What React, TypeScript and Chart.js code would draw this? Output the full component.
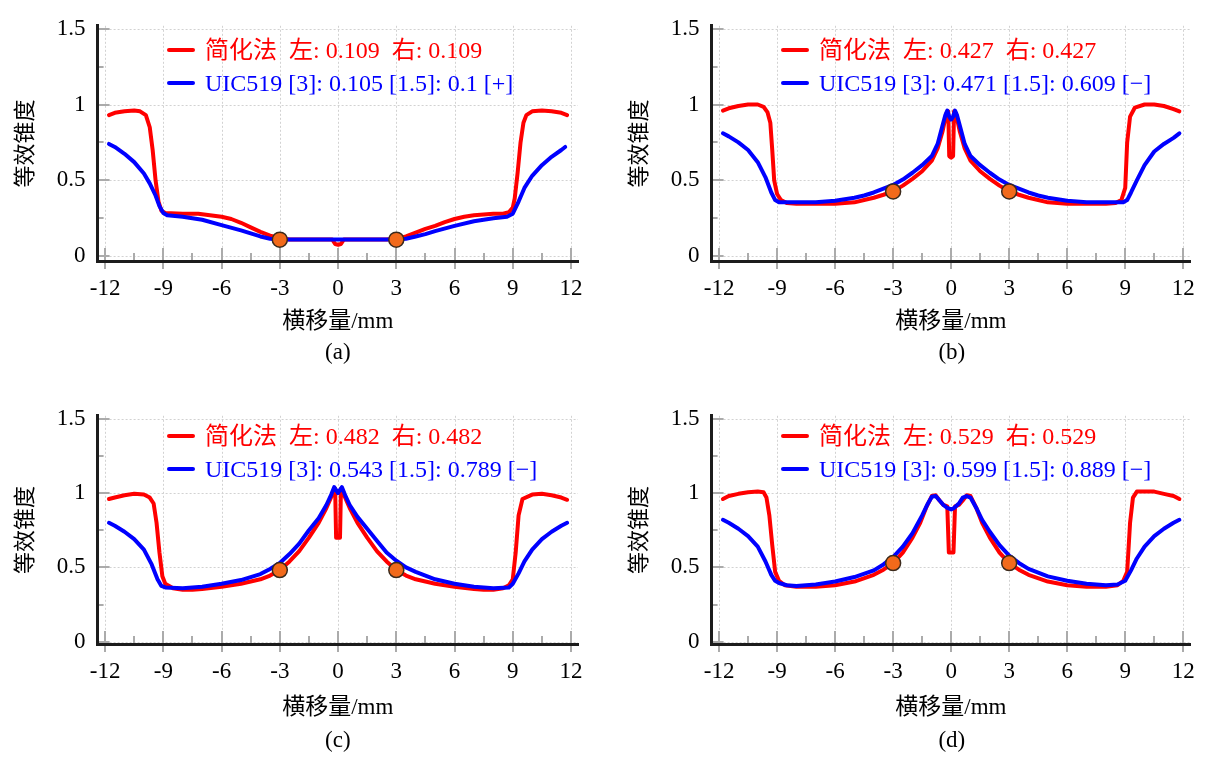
import React, { useEffect, useRef } from "react";
import { Chart, registerables } from "chart.js";

Chart.register(...registerables);

// ---- axis ticks ----
const xTickValues = [-12, -9, -6, -3, 0, 3, 6, 9, 12];
const xMinorValues = [-10.5, -7.5, -4.5, -1.5, 1.5, 4.5, 7.5, 10.5];
const yTickValues = [0, 0.5, 1, 1.5];
const yMinorValues = [0.25, 0.75, 1.25];
const markerX = [-3, 3];

// ---- legend values per panel ----
const panelLabels = ["(a)", "(b)", "(c)", "(d)"];
const simpleLeft = [0.109, 0.427, 0.482, 0.529];
const simpleRight = [0.109, 0.427, 0.482, 0.529];
const uic3 = [0.105, 0.471, 0.543, 0.599];
const uic15 = [0.1, 0.609, 0.789, 0.889];
const uicSign = ["+", "−", "−", "−"];

// ---- panel (a) ----
const redXa = [-11.8, -11.5, -11, -10.5, -10.2, -9.9, -9.7, -9.55, -9.4, -9.25, -9.1, -8.9, -8, -7.2, -6.6, -6, -5.5, -5, -4.5, -4, -3.5, -3, -2.5, -0.3, -0.15, 0, 0.15, 0.3, 2.5, 3, 3.5, 4, 4.5, 5, 5.5, 6, 6.5, 7, 7.5, 8, 8.5, 8.8, 9, 9.1, 9.25, 9.4, 9.55, 9.7, 10, 10.5, 11, 11.5, 11.8];
const redYa = [0.93, 0.945, 0.955, 0.96, 0.955, 0.93, 0.85, 0.7, 0.5, 0.36, 0.3, 0.285, 0.28, 0.28, 0.27, 0.26, 0.245, 0.22, 0.19, 0.16, 0.135, 0.12, 0.11, 0.11, 0.08, 0.075, 0.08, 0.11, 0.11, 0.115, 0.13, 0.155, 0.18, 0.2, 0.225, 0.245, 0.26, 0.27, 0.275, 0.28, 0.28, 0.29, 0.32, 0.38, 0.55, 0.75, 0.88, 0.93, 0.955, 0.96, 0.955, 0.945, 0.93];
const blueXa = [-11.8, -11.5, -11, -10.5, -10, -9.7, -9.4, -9.2, -9, -8.8, -8, -7, -6, -5, -4.5, -4, -3.5, -3, 3, 3.5, 4, 4.5, 5, 6, 7, 8, 8.7, 9, 9.3, 9.6, 10, 10.5, 11, 11.5, 11.7];
const blueYa = [0.74, 0.72, 0.675, 0.62, 0.545, 0.48, 0.4, 0.33, 0.285, 0.27, 0.26, 0.24, 0.205, 0.17, 0.15, 0.13, 0.115, 0.11, 0.11, 0.115, 0.13, 0.145, 0.165, 0.2, 0.23, 0.25, 0.26, 0.28, 0.36, 0.45, 0.53, 0.6, 0.655, 0.7, 0.72];

// ---- panel (b) ----
const redXb = [-11.8, -11.5, -11, -10.5, -10, -9.7, -9.5, -9.35, -9.25, -9.15, -9, -8.8, -8.5, -8, -7, -6, -5.5, -5, -4.5, -4, -3.5, -3, -2.5, -2, -1.5, -1, -0.7, -0.45, -0.25, -0.15, -0.1, 0, 0.1, 0.15, 0.25, 0.45, 0.7, 1, 1.5, 2, 2.5, 3, 3.5, 4, 4.5, 5, 5.5, 6, 7, 8, 8.5, 8.8, 9, 9.1, 9.25, 9.5, 10, 10.5, 11, 11.5, 11.8];
const redYb = [0.96, 0.975, 0.99, 1.0, 1.0, 0.985, 0.95, 0.88, 0.7, 0.5, 0.41, 0.37, 0.35, 0.345, 0.345, 0.345, 0.35, 0.355, 0.37, 0.385, 0.405, 0.427, 0.465, 0.51, 0.56, 0.63, 0.71, 0.82, 0.94, 0.955, 0.66, 0.65, 0.66, 0.955, 0.94, 0.82, 0.71, 0.63, 0.56, 0.51, 0.465, 0.427, 0.405, 0.385, 0.37, 0.355, 0.35, 0.345, 0.345, 0.345, 0.35, 0.37, 0.45, 0.75, 0.92, 0.98, 1.0, 1.0, 0.99, 0.97, 0.955];
const blueXb = [-11.8, -11.5, -11, -10.5, -10, -9.6, -9.3, -9.1, -8.9, -8, -7, -6, -5, -4.5, -4, -3.5, -3, -2.5, -2, -1.5, -1, -0.7, -0.45, -0.3, -0.2, -0.1, 0, 0.1, 0.2, 0.3, 0.45, 0.7, 1, 1.5, 2, 2.5, 3, 3.5, 4, 4.5, 5, 6, 7, 8, 8.9, 9.1, 9.3, 9.6, 10, 10.5, 11, 11.5, 11.8];
const blueYb = [0.81, 0.79, 0.75, 0.7, 0.62, 0.52, 0.42, 0.37, 0.355, 0.355, 0.355, 0.365, 0.385, 0.4, 0.42, 0.445, 0.47, 0.505, 0.55, 0.6, 0.66, 0.74, 0.86, 0.93, 0.96, 0.92, 0.9, 0.92, 0.96, 0.93, 0.86, 0.74, 0.66, 0.6, 0.55, 0.505, 0.47, 0.445, 0.42, 0.4, 0.385, 0.365, 0.355, 0.355, 0.355, 0.37, 0.42, 0.5, 0.6, 0.69, 0.74, 0.78, 0.81];

// ---- panel (c) ----
const redXc = [-11.8, -11.5, -11, -10.5, -10, -9.7, -9.5, -9.35, -9.2, -9.05, -8.9, -8.5, -8, -7.5, -7, -6, -5, -4, -3.5, -3, -2.5, -2, -1.5, -1, -0.6, -0.3, -0.15, -0.1, 0, 0.1, 0.15, 0.3, 0.6, 1, 1.5, 2, 2.5, 3, 3.5, 4, 5, 6, 7, 7.5, 8, 8.5, 8.8, 9, 9.15, 9.3, 9.5, 10, 10.5, 11, 11.5, 11.8];
const redYc = [0.96, 0.97, 0.985, 0.995, 0.99, 0.97, 0.93, 0.8, 0.6, 0.44, 0.39, 0.36, 0.35, 0.35, 0.355, 0.37, 0.39, 0.42, 0.445, 0.482, 0.54, 0.61, 0.7, 0.8, 0.9, 0.99, 1.03, 0.7, 0.7, 0.7, 1.03, 0.99, 0.9, 0.8, 0.7, 0.61, 0.54, 0.482, 0.445, 0.42, 0.39, 0.37, 0.355, 0.35, 0.35, 0.36, 0.38, 0.42, 0.6, 0.85, 0.96, 0.99, 0.995, 0.985, 0.97, 0.955];
const blueXc = [-11.8, -11.5, -11, -10.5, -10, -9.6, -9.3, -9.1, -8.9, -8, -7, -6, -5, -4, -3.5, -3, -2.5, -2, -1.5, -1, -0.6, -0.35, -0.2, 0, 0.2, 0.35, 0.6, 1, 1.5, 2, 2.5, 3, 3.5, 4, 5, 6, 7, 8, 8.8, 9, 9.3, 9.6, 10, 10.5, 11, 11.5, 11.8];
const blueYc = [0.8, 0.78, 0.74, 0.69, 0.62, 0.52, 0.42, 0.375, 0.365, 0.36, 0.37, 0.39, 0.415, 0.455, 0.49, 0.53, 0.59, 0.66, 0.75, 0.83, 0.92, 0.99, 1.04, 1.0, 1.04, 0.99, 0.92, 0.84, 0.76, 0.68, 0.6, 0.545, 0.5, 0.47, 0.42, 0.39, 0.37, 0.36, 0.365, 0.39, 0.46, 0.54, 0.62, 0.69, 0.74, 0.78, 0.8];

// ---- panel (d) ----
const redXd = [-11.8, -11.5, -11, -10.5, -10, -9.7, -9.55, -9.4, -9.25, -9.1, -8.9, -8.6, -8, -7, -6, -5, -4, -3.5, -3, -2.5, -2, -1.6, -1.3, -1, -0.8, -0.6, -0.4, -0.2, -0.12, 0, 0.12, 0.2, 0.4, 0.6, 0.8, 1, 1.3, 1.6, 2, 2.5, 3, 3.5, 4, 5, 6, 7, 8, 8.6, 8.9, 9.1, 9.25, 9.4, 9.6, 10, 10.5, 11, 11.5, 11.8];
const redYd = [0.96, 0.98, 0.995, 1.005, 1.01, 1.005, 0.97, 0.85, 0.65, 0.47, 0.41, 0.38, 0.37, 0.37, 0.38, 0.405, 0.45, 0.485, 0.529, 0.6, 0.7, 0.8, 0.9, 0.98, 0.985, 0.95, 0.92, 0.91, 0.6, 0.6, 0.6, 0.91, 0.92, 0.95, 0.985, 0.98, 0.9, 0.8, 0.7, 0.6, 0.529, 0.485, 0.45, 0.405, 0.38, 0.37, 0.37, 0.38, 0.41, 0.47, 0.8, 0.97, 1.01, 1.01, 1.01, 0.995, 0.98, 0.96];
const blueXd = [-11.8, -11.5, -11, -10.5, -10, -9.6, -9.3, -9.1, -8.9, -8.5, -8, -7, -6, -5, -4, -3.5, -3, -2.5, -2, -1.5, -1.2, -1, -0.8, -0.6, -0.4, -0.2, 0, 0.15, 0.4, 0.6, 0.8, 1, 1.3, 1.6, 2, 2.5, 3, 3.5, 4, 5, 6, 7, 8, 8.6, 9, 9.3, 9.6, 10, 10.5, 11, 11.5, 11.8];
const blueYd = [0.82, 0.8, 0.76, 0.71, 0.64, 0.54, 0.45, 0.41, 0.395, 0.38, 0.375, 0.385, 0.405, 0.435, 0.48, 0.52, 0.57, 0.64, 0.73, 0.85, 0.93, 0.975, 0.98, 0.95, 0.92, 0.9, 0.89, 0.9, 0.93, 0.97, 0.98, 0.97, 0.9, 0.82, 0.74, 0.65, 0.58, 0.53, 0.49, 0.44, 0.41, 0.39, 0.38, 0.385, 0.41, 0.48, 0.56, 0.64, 0.71, 0.76, 0.8, 0.82];

const redX = [redXa, redXb, redXc, redXd];
const redY = [redYa, redYb, redYc, redYd];
const blueX = [blueXa, blueXb, blueXc, blueXd];
const blueY = [blueYa, blueYb, blueYc, blueYd];

const SERIF = "'Liberation Serif', 'Times New Roman', 'Noto Sans CJK SC', serif";
const RED = "#ff0000";
const BLUE = "#0000ff";

// panel placement on the page
const colLeft = [0, 614];
const colWidth = [600, 595];
const rowTop = [0, 390];
const rowGeom = [
  { padTop: 18, axisH: 79, yMin: -0.0319, yMax: 1.519, tickPad: 14, titlePad: 4, legendY: [50, 83], captionY: 352 },
  { padTop: 22.7, axisH: 86, yMin: -0.0153, yMax: 1.52, tickPad: 14, titlePad: 8, legendY: [436, 469], captionY: 740 },
];
const CANVAS_H = 340;
const Y_AXIS_W = 97.6;
const CHART_RIGHT = 578;

const gridPlugin = {
  id: "dottedGrid",
  beforeDraw(chart: any) {
    const { ctx, chartArea } = chart;
    const { left, right, top, bottom } = chartArea;
    const xs = chart.scales.x;
    const ys = chart.scales.y;
    ctx.save();
    ctx.lineWidth = 1;
    ctx.strokeStyle = "#d2d2d2";
    ctx.setLineDash([2, 2]);
    for (const v of xTickValues) {
      const px = Math.round(xs.getPixelForValue(v)) + 0.5;
      ctx.beginPath();
      ctx.moveTo(px, top);
      ctx.lineTo(px, bottom - 12);
      ctx.stroke();
    }
    for (const v of yTickValues) {
      const py = Math.round(ys.getPixelForValue(v)) + 0.5;
      ctx.beginPath();
      ctx.moveTo(left + 12, py);
      ctx.lineTo(right, py);
      ctx.stroke();
    }
    ctx.setLineDash([]);
    ctx.strokeStyle = "#ababab";
    ctx.lineWidth = 2;
    for (const v of xTickValues) {
      const px = Math.round(xs.getPixelForValue(v));
      ctx.beginPath();
      ctx.moveTo(px, bottom - 13);
      ctx.lineTo(px, bottom + 8);
      ctx.stroke();
    }
    for (const v of xMinorValues) {
      const px = Math.round(xs.getPixelForValue(v));
      ctx.beginPath();
      ctx.moveTo(px, bottom - 8);
      ctx.lineTo(px, bottom);
      ctx.stroke();
    }
    for (const v of yTickValues) {
      const py = Math.round(ys.getPixelForValue(v));
      ctx.beginPath();
      ctx.moveTo(left, py);
      ctx.lineTo(left + 12, py);
      ctx.stroke();
    }
    for (const v of yMinorValues) {
      const py = Math.round(ys.getPixelForValue(v));
      ctx.beginPath();
      ctx.moveTo(left, py);
      ctx.lineTo(left + 6, py);
      ctx.stroke();
    }
    ctx.restore();
  },
};

function Panel({ index }: { index: number }) {
  const ref = useRef<HTMLCanvasElement | null>(null);
  const col = index % 2;
  const row = Math.floor(index / 2);
  const g = rowGeom[row];
  const width = colWidth[col];

  useEffect(() => {
    if (!ref.current) return;
    const toPts = (xs: number[], ys: number[]) => xs.map((x, i) => ({ x, y: ys[i] }));
    const markers = [
      { x: markerX[0], y: simpleLeft[index] },
      { x: markerX[1], y: simpleRight[index] },
    ];
    const chart = new Chart(ref.current, {
      type: "line",
      data: {
        datasets: [
          {
            label: "markers",
            data: markers,
            showLine: false,
            pointRadius: 7.5,
            pointBackgroundColor: "#f26a1b",
            pointBorderColor: "#3b2a1c",
            pointBorderWidth: 1.5,
            order: 0,
          },
          {
            label: "UIC519",
            data: toPts(blueX[index], blueY[index]),
            borderColor: BLUE,
            borderWidth: 4,
            pointRadius: 0,
            tension: 0,
            borderJoinStyle: "round",
            borderCapStyle: "round",
            order: 1,
          },
          {
            label: "简化法",
            data: toPts(redX[index], redY[index]),
            borderColor: RED,
            borderWidth: 4,
            pointRadius: 0,
            tension: 0,
            borderJoinStyle: "round",
            borderCapStyle: "round",
            order: 2,
          },
        ] as any,
      },
      options: {
        animation: false,
        responsive: false,
        devicePixelRatio: 1,
        events: [],
        layout: { padding: { left: 0, top: g.padTop, right: width - CHART_RIGHT, bottom: 0 } },
        plugins: { legend: { display: false }, tooltip: { enabled: false } },
        scales: {
          x: {
            type: "linear",
            min: -12.386,
            max: 12.36,
            afterBuildTicks: (s: any) => {
              s.ticks = xTickValues.map((value) => ({ value }));
            },
            afterFit: (s: any) => {
              s.height = g.axisH;
            },
            ticks: {
              autoSkip: false,
              maxRotation: 0,
              padding: g.tickPad,
              color: "#000",
              font: { family: SERIF, size: 23 },
              callback: (v: any) => String(v),
            },
            grid: { display: false, drawTicks: false },
            border: { display: true, color: "#1c1c1c", width: 3 },
            title: {
              display: true,
              text: "横移量/mm",
              color: "#000",
              font: { family: SERIF, size: 23 },
              padding: { top: 0, bottom: g.titlePad },
            },
          },
          y: {
            type: "linear",
            min: g.yMin,
            max: g.yMax,
            afterBuildTicks: (s: any) => {
              s.ticks = yTickValues.map((value) => ({ value }));
            },
            afterFit: (s: any) => {
              s.width = Y_AXIS_W;
            },
            ticks: {
              autoSkip: false,
              padding: 12,
              color: "#000",
              font: { family: SERIF, size: 23 },
              callback: (v: any) => String(v),
            },
            grid: { display: false, drawTicks: false },
            border: { display: true, color: "#1c1c1c", width: 3 },
            title: {
              display: true,
              text: "等效锥度",
              color: "#000",
              font: { family: SERIF, size: 22 },
              padding: { top: 13, bottom: 0 },
            },
          },
        },
      } as any,
      plugins: [gridPlugin],
    });
    return () => chart.destroy();
  }, [index]);

  const left = colLeft[col];
  const top = rowTop[row];
  const legendText = [
    `简化法  左: ${simpleLeft[index]}  右: ${simpleRight[index]}`,
    `UIC519 [3]: ${uic3[index]} [1.5]: ${uic15[index]} [${uicSign[index]}]`,
  ];
  const legendColors = [RED, BLUE];

  return (
    <>
      <canvas
        ref={ref}
        width={width}
        height={CANVAS_H}
        style={{ position: "absolute", left, top, width, height: CANVAS_H }}
      />
      {legendText.map((t, i) => (
        <React.Fragment key={i}>
          <div
            style={{
              position: "absolute",
              left: left + 167,
              top: g.legendY[i] - 2,
              width: 28,
              height: 4,
              borderRadius: 2,
              background: legendColors[i],
            }}
          />
          <div
            style={{
              position: "absolute",
              left: left + 205,
              top: g.legendY[i] - 16,
              height: 32,
              lineHeight: "32px",
              fontSize: 24,
              fontFamily: SERIF,
              color: legendColors[i],
              whiteSpace: "pre",
            }}
          >
            {t}
          </div>
        </React.Fragment>
      ))}
      <div
        style={{
          position: "absolute",
          left: left + (Y_AXIS_W + CHART_RIGHT) / 2 - 40,
          top: g.captionY - 14,
          width: 80,
          height: 28,
          lineHeight: "28px",
          textAlign: "center",
          fontSize: 23,
          fontFamily: SERIF,
          color: "#000",
        }}
      >
        {panelLabels[index]}
      </div>
    </>
  );
}

export default function App() {
  return (
    <div
      style={{
        position: "absolute",
        left: 0,
        top: 0,
        width: 1209,
        height: 758,
        background: "#fff",
        overflow: "hidden",
      }}
    >
      {[0, 1, 2, 3].map((i) => (
        <Panel key={i} index={i} />
      ))}
    </div>
  );
}
